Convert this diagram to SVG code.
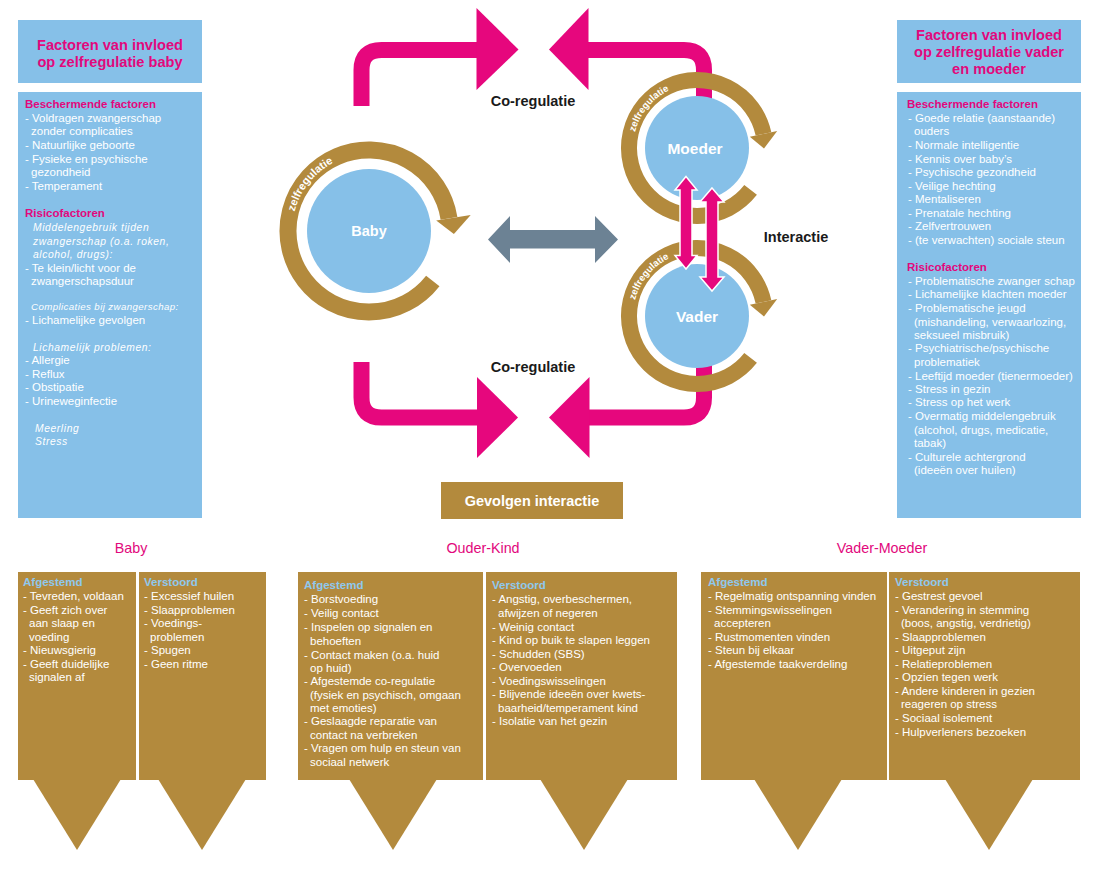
<svg xmlns="http://www.w3.org/2000/svg" width="1104" height="880" viewBox="0 0 1104 880">
<style>
text{font-family:"Liberation Sans",Arial,Helvetica,sans-serif}
.panel{fill:#86C0E8}
.brown{fill:#B38A3D}
.pk{fill:#E6077D}
.w{fill:#fff;font-size:11.5px}
.h{fill:#E2087C;font-weight:bold;font-size:11.5px}
.i{fill:#fff;font-style:italic;font-size:10.3px;letter-spacing:0.6px}
.bh{fill:#8EC8EE;font-weight:bold;font-size:11.5px}
.title{fill:#E2087C;font-weight:bold;font-size:14.6px;text-anchor:middle}
.sec{fill:#E2087C;font-size:14.3px;text-anchor:middle}
.lbl{fill:#1a1a1a;font-weight:bold;font-size:14.5px;text-anchor:middle}
.cl{fill:#fff;font-weight:bold;font-size:15px;text-anchor:middle}
.ring{fill:none;stroke:#B38A3D}
.zr{fill:#fff;font-size:11px;font-weight:bold}
.shaft{fill:none;stroke:#E6077D;stroke-width:16}
</style>
<defs>
<path id="pBaby" d="M293.2,217.6 A77,77 0 0 1 382.4,155.2"/>
<path id="pMoeder" d="M634,136.9 A64,64 0 0 1 708.1,85"/>
<path id="pVader" d="M634,304.9 A64,64 0 0 1 708.1,253"/>
</defs>

<g id="panel-baby">
<rect class="panel" x="18" y="20" width="184" height="63"/>
<text class="title" x="110" y="50">Factoren van invloed</text>
<text class="title" x="110" y="67">op zelfregulatie baby</text>
<rect class="panel" x="18" y="92" width="184" height="426"/>
<text class="h" x="25" y="108">Beschermende factoren</text>
<text class="w" x="25" y="122">- Voldragen zwangerschap</text>
<text class="w" x="31" y="135">zonder complicaties</text>
<text class="w" x="25" y="149">- Natuurlijke geboorte</text>
<text class="w" x="25" y="163">- Fysieke en psychische</text>
<text class="w" x="31" y="176">gezondheid</text>
<text class="w" x="25" y="190">- Temperament</text>
<text class="h" x="25" y="217">Risicofactoren</text>
<text class="i" x="33" y="231">Middelengebruik tijden</text>
<text class="i" x="33" y="245">zwangerschap (o.a. roken,</text>
<text class="i" x="33" y="258">alcohol, drugs):</text>
<text class="w" x="25" y="272">- Te klein/licht voor de</text>
<text class="w" x="31" y="285">zwangerschapsduur</text>
<text class="i" x="31" y="310" style="font-size:9.7px;letter-spacing:0.4px">Complicaties bij zwangerschap:</text>
<text class="w" x="25" y="324">- Lichamelijke gevolgen</text>
<text class="i" x="33" y="351">Lichamelijk problemen:</text>
<text class="w" x="25" y="364">- Allergie</text>
<text class="w" x="25" y="378">- Reflux</text>
<text class="w" x="25" y="391">- Obstipatie</text>
<text class="w" x="25" y="405">- Urineweginfectie</text>
<text class="i" x="35" y="432">Meerling</text>
<text class="i" x="35" y="445">Stress</text>
</g>

<g id="panel-ouders">
<rect class="panel" x="897" y="20" width="184" height="63"/>
<text class="title" x="989" y="40">Factoren van invloed</text>
<text class="title" x="989" y="57">op zelfregulatie vader</text>
<text class="title" x="989" y="74">en moeder</text>
<rect class="panel" x="897" y="92" width="184" height="426"/>
<text class="h" x="907" y="108">Beschermende factoren</text>
<text class="w" x="908" y="122">- Goede relatie (aanstaande)</text>
<text class="w" x="914" y="135">ouders</text>
<text class="w" x="908" y="149">- Normale intelligentie</text>
<text class="w" x="908" y="163">- Kennis over baby’s</text>
<text class="w" x="908" y="176">- Psychische gezondheid</text>
<text class="w" x="908" y="190">- Veilige hechting</text>
<text class="w" x="908" y="203">- Mentaliseren</text>
<text class="w" x="908" y="217">- Prenatale hechting</text>
<text class="w" x="908" y="230">- Zelfvertrouwen</text>
<text class="w" x="908" y="244">- (te verwachten) sociale steun</text>
<text class="h" x="907" y="271">Risicofactoren</text>
<text class="w" x="908" y="285">- Problematische zwanger  schap</text>
<text class="w" x="908" y="298">- Lichamelijke klachten moeder</text>
<text class="w" x="908" y="312">- Problematische jeugd</text>
<text class="w" x="914" y="326">(mishandeling, verwaarlozing,</text>
<text class="w" x="914" y="339">seksueel misbruik)</text>
<text class="w" x="908" y="352">- Psychiatrische/psychische</text>
<text class="w" x="914" y="366">problematiek</text>
<text class="w" x="908" y="380">- Leeftijd moeder (tienermoeder)</text>
<text class="w" x="908" y="393">- Stress in gezin</text>
<text class="w" x="908" y="406">- Stress op het werk</text>
<text class="w" x="908" y="420">- Overmatig middelengebruik</text>
<text class="w" x="914" y="434">(alcohol, drugs, medicatie,</text>
<text class="w" x="914" y="447">tabak)</text>
<text class="w" x="908" y="461">- Culturele achtergrond</text>
<text class="w" x="914" y="474">(ideeën over huilen)</text>
</g>

<g id="connectors">
<path class="shaft" d="M361.5,106 V70 Q361.5,50 381.5,50 H480"/>
<polygon class="pk" points="476.5,8 518.5,49.5 476.5,90"/>
<path class="shaft" d="M586,50 H684 Q704,50 704,70 V120"/>
<polygon class="pk" points="549,49.5 588.5,8 588.5,90"/>
<path class="shaft" d="M361.5,362 V397.5 Q361.5,417.5 381.5,417.5 H480"/>
<polygon class="pk" points="477,377 518,417.5 477,458"/>
<path class="shaft" d="M586,417.5 H684 Q704,417.5 704,397.5 V350"/>
<polygon class="pk" points="549,417.5 589.5,377 589.5,458"/>
<polygon fill="#6C8294" points="488,239.5 510,216 510,230 595,230 595,216 618,239.5 595,263 595,248.5 510,248.5 510,263"/>
</g>

<g id="baby">
<path class="ring" stroke-width="17" d="M432.8,280.9 A81,81 0 1 1 449,218.3"/>
<polygon fill="#B38A3D" points="436.2,220.4 470.7,214.9 453.9,234"/>
<text class="zr"><textPath href="#pBaby" startOffset="6">zelfregulatie</textPath></text>
<circle cx="369" cy="231" r="62" fill="#86C0E8"/>
<text class="cl" x="369" y="236" style="font-size:14.5px">Baby</text>
</g>

<g id="moeder">
<path class="ring" stroke-width="16" d="M750.6,189.9 A68,68 0 1 1 763.5,133.9"/>
<polygon fill="#B38A3D" points="749.8,136.8 777.2,131 764,148.6"/>
<text class="zr" style="font-size:9.5px"><textPath href="#pMoeder" startOffset="5">zelfregulatie</textPath></text>
<circle cx="697" cy="148" r="52" fill="#86C0E8"/>
<text class="cl" x="695" y="153.5" style="font-size:15.5px">Moeder</text>
</g>

<g id="vader">
<path class="ring" stroke-width="16" d="M750.6,357.9 A68,68 0 1 1 763.5,301.9"/>
<polygon fill="#B38A3D" points="749.8,304.8 777.2,299 764,316.6"/>
<text class="zr" style="font-size:9.5px"><textPath href="#pVader" startOffset="5">zelfregulatie</textPath></text>
<circle cx="697" cy="316" r="52" fill="#86C0E8"/>
<text class="cl" x="697" y="321.5" style="font-size:15.5px">Vader</text>
</g>

<g id="interactie-arrows">
<polygon class="pk" stroke="#fff" stroke-width="1.5" points="686,176.5 697,190 692,190 692,255.5 697,255.5 686,269 675,255.5 680,255.5 680,190 675,190"/>
<polygon class="pk" stroke="#fff" stroke-width="1.5" points="712,188 724,202 718,202 718,277 724,277 712,291 700,277 706,277 706,202 700,202"/>
</g>

<g id="labels">
<text class="lbl" x="533" y="106">Co-regulatie</text>
<text class="lbl" x="533" y="372">Co-regulatie</text>
<text class="lbl" x="796" y="242">Interactie</text>
</g>

<g id="gevolgen">
<rect class="brown" x="441" y="482" width="182" height="37"/>
<text class="cl" x="532" y="505.5" style="font-size:14.5px">Gevolgen interactie</text>
</g>

<g id="sections">
<text class="sec" x="131" y="553">Baby</text>
<text class="sec" x="483" y="553">Ouder-Kind</text>
<text class="sec" x="882" y="553">Vader-Moeder</text>
</g>

<g id="baby-afgestemd">
<rect class="brown" x="18" y="572" width="118" height="208"/>
<polygon class="brown" points="33,779 121,779 77,850"/>
<text class="bh" x="23" y="586">Afgestemd</text>
<text class="w" x="23" y="600">- Tevreden, voldaan</text>
<text class="w" x="23" y="614">- Geeft zich over</text>
<text class="w" x="29" y="627">aan slaap en</text>
<text class="w" x="29" y="641">voeding</text>
<text class="w" x="23" y="654">- Nieuwsgierig</text>
<text class="w" x="23" y="668">- Geeft duidelijke</text>
<text class="w" x="29" y="681">signalen af</text>
</g>
<g id="baby-verstoord">
<rect class="brown" x="139" y="572" width="127" height="208"/>
<polygon class="brown" points="158,779 246,779 202,850"/>
<text class="bh" x="144" y="586">Verstoord</text>
<text class="w" x="144" y="600">- Excessief huilen</text>
<text class="w" x="144" y="614">- Slaapproblemen</text>
<text class="w" x="144" y="627">- Voedings-</text>
<text class="w" x="150" y="641">problemen</text>
<text class="w" x="144" y="654">- Spugen</text>
<text class="w" x="144" y="668">- Geen ritme</text>
</g>

<g id="ouderkind-afgestemd">
<rect class="brown" x="298" y="572" width="185" height="208"/>
<polygon class="brown" points="349,779 437,779 393,850"/>
<text class="bh" x="304" y="589">Afgestemd</text>
<text class="w" x="304" y="603">- Borstvoeding</text>
<text class="w" x="304" y="617">- Veilig contact</text>
<text class="w" x="304" y="631">- Inspelen op signalen en</text>
<text class="w" x="310" y="645">behoeften</text>
<text class="w" x="304" y="659">- Contact maken (o.a. huid</text>
<text class="w" x="310" y="672">op huid)</text>
<text class="w" x="304" y="685">- Afgestemde co-regulatie</text>
<text class="w" x="310" y="699">(fysiek en psychisch, omgaan</text>
<text class="w" x="310" y="712">met emoties)</text>
<text class="w" x="304" y="725">- Geslaagde reparatie van</text>
<text class="w" x="310" y="739">contact na verbreken</text>
<text class="w" x="304" y="752">- Vragen om hulp en steun van</text>
<text class="w" x="310" y="766">sociaal netwerk</text>
</g>
<g id="ouderkind-verstoord">
<rect class="brown" x="486" y="572" width="191" height="208"/>
<polygon class="brown" points="540,779 628,779 584,850"/>
<text class="bh" x="492" y="589">Verstoord</text>
<text class="w" x="492" y="603">- Angstig, overbeschermen,</text>
<text class="w" x="498" y="617">afwijzen of negeren</text>
<text class="w" x="492" y="631">- Weinig contact</text>
<text class="w" x="492" y="644">- Kind op buik te slapen leggen</text>
<text class="w" x="492" y="658">- Schudden (SBS)</text>
<text class="w" x="492" y="671">- Overvoeden</text>
<text class="w" x="492" y="685">- Voedingswisselingen</text>
<text class="w" x="492" y="698">- Blijvende ideeën over kwets-</text>
<text class="w" x="498" y="712">baarheid/temperament kind</text>
<text class="w" x="492" y="725">- Isolatie van het gezin</text>
</g>

<g id="vadermoeder-afgestemd">
<rect class="brown" x="701" y="572" width="186" height="208"/>
<polygon class="brown" points="754,779 842,779 798,850"/>
<text class="bh" x="708" y="586">Afgestemd</text>
<text class="w" x="708" y="600">- Regelmatig ontspanning vinden</text>
<text class="w" x="708" y="614">- Stemmingswisselingen</text>
<text class="w" x="714" y="627">accepteren</text>
<text class="w" x="708" y="641">- Rustmomenten vinden</text>
<text class="w" x="708" y="654">- Steun bij elkaar</text>
<text class="w" x="708" y="668">- Afgestemde taakverdeling</text>
</g>
<g id="vadermoeder-verstoord">
<rect class="brown" x="889" y="572" width="191" height="208"/>
<polygon class="brown" points="945,779 1033,779 989,850"/>
<text class="bh" x="895" y="586">Verstoord</text>
<text class="w" x="895" y="600">- Gestrest gevoel</text>
<text class="w" x="895" y="614">- Verandering in stemming</text>
<text class="w" x="901" y="627">(boos, angstig, verdrietig)</text>
<text class="w" x="895" y="641">- Slaapproblemen</text>
<text class="w" x="895" y="654">- Uitgeput zijn</text>
<text class="w" x="895" y="668">- Relatieproblemen</text>
<text class="w" x="895" y="681">- Opzien tegen werk</text>
<text class="w" x="895" y="695">- Andere kinderen in gezien</text>
<text class="w" x="901" y="708">reageren op stress</text>
<text class="w" x="895" y="722">- Sociaal isolement</text>
<text class="w" x="895" y="736">- Hulpverleners bezoeken</text>
</g>
</svg>
